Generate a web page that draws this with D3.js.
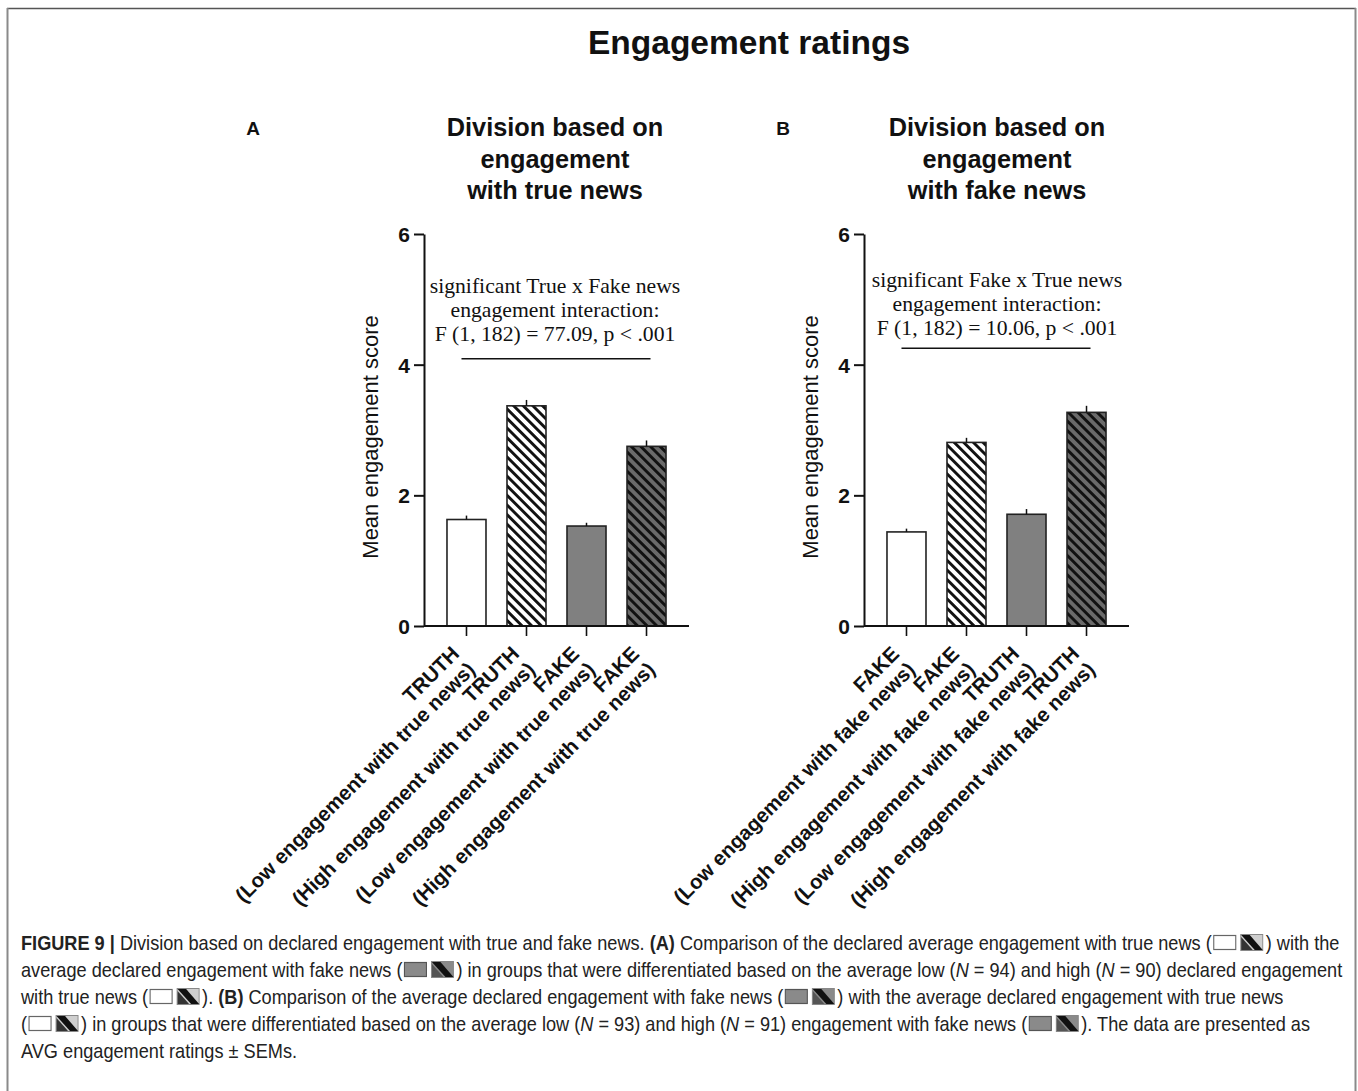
<!DOCTYPE html>
<html>
<head>
<meta charset="utf-8">
<script src="https://cdn.jsdelivr.net/npm/d3@7"></script>
<style>
  html, body { margin: 0; padding: 0; background: #fff; }
  svg { display: block; }
</style>
</head>
<body>
<svg id="chart" width="1358" height="1091"></svg>
<script>
// ---------------- DATA ----------------
const mainTitle = "Engagement ratings";
const yTickValues = [0, 2, 4, 6];
const yLabel = "Mean engagement score";

const titleA = ["Division based on", "engagement", "with true news"];
const groupsA = ["TRUTH", "TRUTH", "FAKE", "FAKE"];
const subsA = ["(Low engagement with true news)", "(High engagement with true news)",
               "(Low engagement with true news)", "(High engagement with true news)"];
const meansA = [1.63, 3.37, 1.53, 2.75];
const semA = [0.06, 0.09, 0.05, 0.09];
const annotA = ["significant True x Fake news", "engagement interaction:", "F (1, 182) = 77.09, p < .001"];
const annotLevelA = 4.09;

const titleB = ["Division based on", "engagement", "with fake news"];
const groupsB = ["FAKE", "FAKE", "TRUTH", "TRUTH"];
const subsB = ["(Low engagement with fake news)", "(High engagement with fake news)",
               "(Low engagement with fake news)", "(High engagement with fake news)"];
const meansB = [1.44, 2.81, 1.71, 3.27];
const semB = [0.05, 0.07, 0.08, 0.10];
const annotB = ["significant Fake x True news", "engagement interaction:", "F (1, 182) = 10.06, p < .001"];
const annotLevelB = 4.25;

// bar styles per position: open, open hatched, grey, grey hatched
const barStylesA = ["white", "hatchWhite", "grey", "hatchGrey"];
const barStylesB = ["white", "hatchWhite", "grey", "hatchGrey"];

// ---------------- DRAW ----------------
const svg = d3.select("#chart");
const W = 1358, H = 1091;
const SANS = "'Liberation Sans', Arial, Helvetica, sans-serif";
const SERIF = "'Liberation Serif', 'Times New Roman', serif";

svg.append("rect").attr("width", W).attr("height", H).attr("fill", "#fff");

// frame
svg.append("line").attr("x1", 7).attr("x2", 1356).attr("y1", 8.5).attr("y2", 8.5)
  .attr("stroke", "#555").attr("stroke-width", 1.5);
svg.append("line").attr("x1", 7.5).attr("x2", 7.5).attr("y1", 8).attr("y2", H)
  .attr("stroke", "#8a8a8a").attr("stroke-width", 2);
svg.append("line").attr("x1", 1355.5).attr("x2", 1355.5).attr("y1", 8).attr("y2", H)
  .attr("stroke", "#8a8a8a").attr("stroke-width", 2);

// patterns
const defs = svg.append("defs");
function hatch(id, bg) {
  const p = defs.append("pattern").attr("id", id)
    .attr("patternUnits", "userSpaceOnUse")
    .attr("width", 6.8).attr("height", 20)
    .attr("patternTransform", "rotate(-45)");
  p.append("rect").attr("width", 6.8).attr("height", 20).attr("fill", bg);
  p.append("rect").attr("x", 0).attr("width", 2.9).attr("height", 20).attr("fill", "#111");
}
hatch("hatchWhite", "#ffffff");
hatch("hatchGrey", "#6a6a6a");
const fills = { white: "#ffffff", grey: "#808080", hatchWhite: "url(#hatchWhite)", hatchGrey: "url(#hatchGrey)" };

// main title
svg.append("text").attr("x", 749).attr("y", 54)
  .attr("text-anchor", "middle")
  .style("font-family", SANS).style("font-weight", "bold").style("font-size", "33.5px")
  .attr("fill", "#111").text(mainTitle);

function drawPanel(cfg) {
  const g = svg.append("g");
  const y = d3.scaleLinear().domain([0, 6]).range([626, 234]);
  const idx = cfg.means.map((d, i) => i);
  const x = d3.scaleBand().domain(idx).range([cfg.axisX, cfg.axisRight])
    .paddingInner(0.35).paddingOuter(0.383);

  // panel letter
  g.append("text").attr("x", cfg.letterX).attr("y", 135)
    .style("font-family", SANS).style("font-weight", "bold").style("font-size", "19px")
    .attr("fill", "#111").attr("text-anchor", "middle").text(cfg.letter);

  // panel title
  const tt = g.append("text").attr("text-anchor", "middle")
    .style("font-family", SANS).style("font-weight", "bold").style("font-size", "25.3px")
    .attr("fill", "#111");
  cfg.title.forEach((t, i) => {
    tt.append("tspan").attr("x", cfg.titleX).attr("y", 136 + i * 31.5).text(t);
  });

  // bars
  g.selectAll("rect.bar").data(cfg.means).enter().append("rect")
    .attr("class", "bar")
    .attr("x", (d, i) => x(i))
    .attr("width", x.bandwidth())
    .attr("y", d => y(d))
    .attr("height", d => y(0) - y(d))
    .attr("fill", (d, i) => fills[cfg.styles[i]])
    .attr("stroke", "#222").attr("stroke-width", 1.6);

  // error bars (mean + SEM)
  g.selectAll("line.err").data(cfg.means).enter().append("line")
    .attr("class", "err")
    .attr("x1", (d, i) => x(i) + x.bandwidth() / 2)
    .attr("x2", (d, i) => x(i) + x.bandwidth() / 2)
    .attr("y1", d => y(d))
    .attr("y2", (d, i) => y(d + cfg.sem[i]))
    .attr("stroke", "#111").attr("stroke-width", 1.5);

  // y axis
  const ya = g.append("g").attr("transform", `translate(${cfg.axisX},0)`)
    .call(d3.axisLeft(y).tickValues(yTickValues).tickFormat(d3.format("d")).tickSize(10).tickSizeOuter(0).tickPadding(4));
  ya.select(".domain").attr("stroke", "#111").attr("stroke-width", 2);
  ya.selectAll(".tick line").attr("stroke", "#111").attr("stroke-width", 2);
  ya.selectAll(".tick text").style("font-family", SANS).style("font-weight", "bold")
    .style("font-size", "21px").attr("fill", "#111").attr("dy", "0.36em");

  // x axis
  const xa = g.append("g").attr("transform", `translate(0,${y(0)})`)
    .call(d3.axisBottom(x).tickSize(10).tickSizeOuter(0).tickFormat(""));
  xa.select(".domain").attr("stroke", "#111").attr("stroke-width", 2)
    .attr("d", `M${cfg.axisX},0H${cfg.axisRight}`);
  xa.selectAll(".tick line").attr("stroke", "#111").attr("stroke-width", 1.6);

  // x labels (rotated, two lines, right aligned)
  idx.forEach(i => {
    const cx = x(i) + x.bandwidth() / 2;
    const t = g.append("text")
      .attr("transform", `translate(${cx - 6},${y(0) + 29}) rotate(-45)`)
      .attr("text-anchor", "end")
      .style("font-family", SANS).style("font-weight", "bold").style("font-size", "20.5px")
      .attr("fill", "#111");
    t.append("tspan").attr("x", 0).attr("y", 0).text(cfg.groups[i]);
    t.append("tspan").attr("x", 0).attr("y", 22.5).text(cfg.subs[i]);
  });

  // y label
  g.append("text")
    .attr("transform", `translate(${cfg.yLabelX},${437}) rotate(-90)`)
    .attr("text-anchor", "middle")
    .style("font-family", SANS).style("font-size", "22px").attr("fill", "#111")
    .text(yLabel);

  // annotation
  const at = g.append("text").attr("text-anchor", "middle")
    .style("font-family", SERIF).style("font-size", "21.7px").attr("fill", "#111");
  cfg.annot.forEach((t, i) => {
    at.append("tspan").attr("x", cfg.annotX).attr("y", cfg.annotY + i * 24).text(t);
  });
  const first = x(0) + x.bandwidth() / 2, last = x(idx.length - 1) + x.bandwidth() / 2;
  g.append("line")
    .attr("x1", first - 5).attr("x2", last + 4)
    .attr("y1", y(cfg.annotLevel)).attr("y2", y(cfg.annotLevel))
    .attr("stroke", "#111").attr("stroke-width", 1.5);
}

drawPanel({
  letter: "A", letterX: 253, title: titleA, titleX: 555,
  axisX: 424, axisRight: 689, yLabelX: 378,
  means: meansA, sem: semA, groups: groupsA, subs: subsA, styles: barStylesA,
  annot: annotA, annotX: 555, annotY: 293, annotLevel: annotLevelA
});
drawPanel({
  letter: "B", letterX: 783, title: titleB, titleX: 997,
  axisX: 864, axisRight: 1129, yLabelX: 818,
  means: meansB, sem: semB, groups: groupsB, subs: subsB, styles: barStylesB,
  annot: annotB, annotX: 997, annotY: 287, annotLevel: annotLevelB
});

// ---------------- CAPTION ----------------
const captionLines = [
  [{t: "FIGURE 9 |", b: 1}, {t: " Division based on declared engagement with true and fake news. "}, {t: "(A)", b: 1},
   {t: " Comparison of the declared average engagement with true news ("}, {icon: "white"}, {icon: "hatchW"}, {t: ") with the"}],
  [{t: "average declared engagement with fake news ("}, {icon: "grey"}, {icon: "hatchG"},
   {t: ") in groups that were differentiated based on the average low ("}, {t: "N", i: 1}, {t: " = 94) and high ("}, {t: "N", i: 1},
   {t: " = 90) declared engagement"}],
  [{t: "with true news ("}, {icon: "white"}, {icon: "hatchW"}, {t: "). "}, {t: "(B)", b: 1},
   {t: " Comparison of the average declared engagement with fake news ("}, {icon: "grey"}, {icon: "hatchG"},
   {t: ") with the average declared engagement with true news"}],
  [{t: "("}, {icon: "white"}, {icon: "hatchW"}, {t: ") in groups that were differentiated based on the average low ("}, {t: "N", i: 1},
   {t: " = 93) and high ("}, {t: "N", i: 1}, {t: " = 91) engagement with fake news ("}, {icon: "grey"}, {icon: "hatchG"},
   {t: "). The data are presented as"}],
  [{t: "AVG engagement ratings \u00b1 SEMs."}]
];
const CAP_FONT = "'Liberation Sans', Arial, sans-serif";
const capSize = 20;
const capLeft = 21, capTargetWidth = 1319;
const cap = svg.append("g");
function drawIcon(gl, type, x0, base, sx) {
  // icons are drawn inside a horizontally scaled line group; pre-compensate width
  const w = 22 / sx, h = 15, top = base - 15;
  const gi = gl.append("g");
  if (type === "white") {
    gi.append("rect").attr("x", x0).attr("y", top + 0.5).attr("width", w).attr("height", h - 1)
      .attr("fill", "#fff").attr("stroke", "#666").attr("stroke-width", 1.2);
  } else if (type === "grey") {
    gi.append("rect").attr("x", x0).attr("y", top + 0.5).attr("width", w).attr("height", h - 1)
      .attr("fill", "#8a8a8a").attr("stroke", "#555").attr("stroke-width", 1.2);
  } else {
    const bg = type === "hatchW" ? "#cfcfcf" : "#8a8a8a";
    gi.append("rect").attr("x", x0).attr("y", top - 0.5).attr("width", w).attr("height", h + 1)
      .attr("fill", bg).attr("stroke", "#888").attr("stroke-width", 1);
    gi.append("path")
      .attr("d", `M${x0 + 0.5},${top} L${x0 + 9 / sx},${top} L${x0 + w},${top + h} L${x0 + w - 8 / sx},${top + h} Z`)
      .attr("fill", "#111");
    gi.append("path")
      .attr("d", `M${x0 + 0.5},${top + 2} L${x0 + 12 / sx},${top + h} L${x0 + 0.5},${top + h} Z`)
      .attr("fill", type === "hatchW" ? "#333" : "#555");
  }
}
function layoutLine(gl, segs, base, sx) {
  let cx = 0;
  segs.forEach(s => {
    if (s.icon) {
      cx += 2 / sx;
      drawIcon(gl, s.icon, cx, base, sx);
      cx += 25 / sx;
    } else {
      const t = gl.append("text").attr("x", cx).attr("y", base)
        .style("font-family", CAP_FONT).style("font-size", capSize + "px")
        .style("white-space", "pre").attr("fill", "#222")
        .style("font-weight", s.b ? "bold" : "normal")
        .style("font-style", s.i ? "italic" : "normal")
        .text(s.t);
      cx += t.node().getComputedTextLength();
    }
  });
  return cx;
}
// measure first line to derive the condensing factor of the caption face
const probe = cap.append("g");
const textOnly = layoutLine(probe, captionLines[0].filter(s => !s.icon), 0, 1);
probe.remove();
const nIcons0 = captionLines[0].filter(s => s.icon).length;
const sx = (capTargetWidth - nIcons0 * 27) / textOnly;
captionLines.forEach((segs, li) => {
  const base = 950 + li * 27;
  const gl = cap.append("g").attr("transform", `translate(${capLeft},0) scale(${sx},1)`);
  layoutLine(gl, segs, base, sx);
});
</script>
</body>
</html>
